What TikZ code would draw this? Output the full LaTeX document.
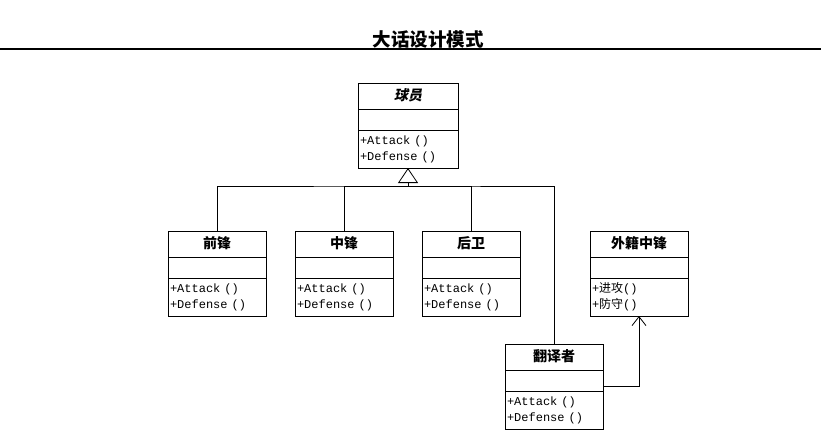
\documentclass[tikz,border=0pt]{standalone}
\usepackage{fontspec}
\setmonofont{Liberation Mono}
\newfontfamily\cjk{Noto Sans CJK SC}
\newfontfamily\cjkslant{Noto Sans CJK SC}[FakeSlant=0.2]
\usetikzlibrary{arrows.meta,positioning,shapes.multipart}
\newcommand\clsname[1]{\makebox[\linewidth][c]{\cjk\bfseries\fontsize{14}{14}\selectfont #1}\rule[-6pt]{0pt}{20pt}}

\begin{document}
\begin{tikzpicture}[x=1pt,y=-1pt,
      cls/.style={rectangle split,rectangle split parts=3,draw,line width=1pt,
      text width=94pt,inner xsep=2pt,inner ysep=2.5pt,outer sep=0pt,align=left,
      font=\ttfamily\fontsize{12}{16}\selectfont},
      link/.style={line width=0.8pt}]
      \useasboundingbox (0,0) rectangle (821,434);
      \node[font=\cjk\bfseries\fontsize{18.5}{18.5}\selectfont] (title) at (428,39) {大话设计模式};
      \draw[line width=1.5pt] (0,49) -- (821,49);
      % abstract player class
      \node[cls,anchor=north west,text width=96pt] (qiuyuan) at (358,83)
        {\makebox[\linewidth][c]{\cjkslant\bfseries\fontsize{14}{14}\selectfont 球员}\rule[-6pt]{0pt}{20pt}
         \nodepart{two}\rule{0pt}{15pt}
         \nodepart{three}+Attack ()\strut\\+Defense ()\strut};
      % subclasses
      \node[cls,anchor=north west] (qianfeng) at (168,231)
        {\clsname{前锋}\nodepart{two}\rule{0pt}{15pt}
         \nodepart{three}+Attack ()\strut\\+Defense ()\strut};
      \node[cls,right=29pt of qianfeng] (zhongfeng)
        {\clsname{中锋}\nodepart{two}\rule{0pt}{15pt}
         \nodepart{three}+Attack ()\strut\\+Defense ()\strut};
      \node[cls,right=29pt of zhongfeng] (houwei)
        {\clsname{后卫}\nodepart{two}\rule{0pt}{15pt}
         \nodepart{three}+Attack ()\strut\\+Defense ()\strut};
      \node[cls,anchor=north west] (waiji) at (590,231)
        {\clsname{外籍中锋}\nodepart{two}\rule{0pt}{15pt}
         \nodepart{three}+{\cjk 进攻}()\strut\\+{\cjk 防守}()\strut};
      \node[cls,anchor=north west] (fanyi) at (505,344)
        {\clsname{翻译者}\nodepart{two}\rule{0pt}{15pt}
         \nodepart{three}+Attack ()\strut\\+Defense ()\strut};
      % inheritance
      \coordinate (gen) at ([yshift=-18pt]qiuyuan.south);
      \draw[link,-{Triangle[open,width=20pt,length=15pt]}] (gen) -- (qiuyuan.south);
      \draw[link] (qianfeng.north) |- (gen) -| (fanyi.north);
      \draw[link] (zhongfeng.north) |- (gen);
      \draw[link] (houwei.north) |- (gen);
      % association
      \draw[link,-{Straight Barb[length=9pt,width=14pt]}] (fanyi.east) -| (waiji.south);
    \end{tikzpicture}
\end{document}
